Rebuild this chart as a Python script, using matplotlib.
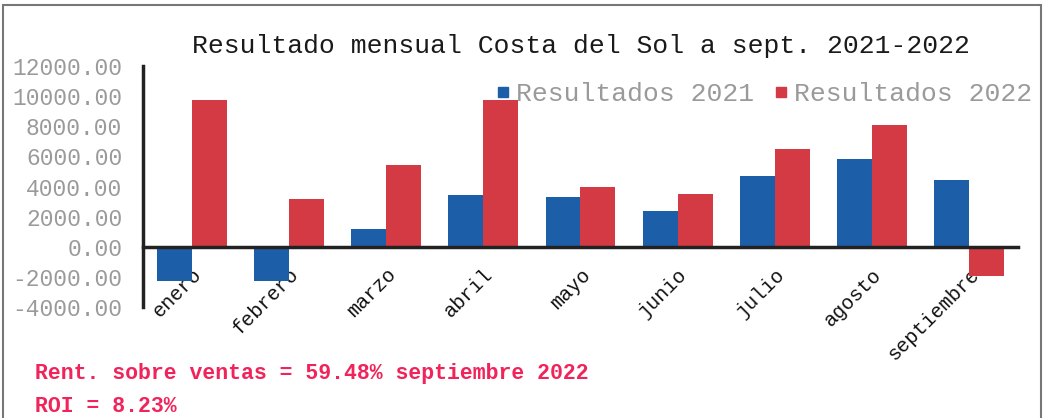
import numpy as np
import matplotlib.pyplot as plt
from matplotlib.lines import Line2D
from matplotlib.patches import Rectangle

# Datos mensuales
meses = ['enero', 'febrero', 'marzo', 'abril', 'mayo', 'junio', 'julio', 'agosto', 'septiembre']
res_2021 = [-2300, -2300, 1150, 3430, 3320, 2380, 4730, 5850, 4450]
res_2022 = [9720, 3200, 5450, 9720, 3950, 3490, 6490, 8070, -1950]
y_ticks = [-4000, -2000, 0, 2000, 4000, 6000, 8000, 10000, 12000]

titulo = 'Resultado mensual Costa del Sol a sept. 2021-2022'
nota_rent = 'Rent. sobre ventas = 59.48% septiembre 2022'
nota_roi = 'ROI = 8.23%'

azul = '#1d5ea8'
rojo = '#d33a44'
rosa = '#f0245a'
mono = ['Liberation Mono', 'DejaVu Sans Mono']

plt.rcParams['font.family'] = mono

fig = plt.figure(figsize=(10.45, 4.18), dpi=100)
ax = fig.add_axes([143 / 1045, 1 - 307 / 418, (1018 - 143) / 1045, (307 - 66) / 418])

# spines primero (set_position reinicia los ticks)
for s in ['top', 'right']:
    ax.spines[s].set_visible(False)
ax.spines['bottom'].set_position(('data', 0))
ax.spines['bottom'].set_linewidth(2.5)
ax.spines['bottom'].set_color('#222222')
ax.spines['bottom'].set_zorder(3)
ax.spines['left'].set_linewidth(2.5)
ax.spines['left'].set_color('#222222')

x = np.arange(len(meses))
w = 0.36
ax.bar(x - w / 2, res_2021, width=w, color=azul, zorder=2)
ax.bar(x + w / 2, res_2022, width=w, color=rojo, zorder=2)

ax.set_xlim(-0.5, len(meses) - 0.5)
ax.set_ylim(-4000, 12000)
ax.set_yticks(y_ticks)
ax.set_yticklabels([f'{v:.2f}' for v in y_ticks], fontsize=16.5, color='#9a9a9a')
ax.tick_params(axis='y', length=0, pad=15)

ax.set_xticks(x)
ax.set_xticklabels(meses, fontsize=14.5, rotation=45, ha='right', va='top',
                   rotation_mode='anchor', color='#111111')
ax.tick_params(axis='x', length=0, pad=13)

ax.set_title(titulo, fontsize=19, color='#1a1a1a', pad=9)

handles = [Line2D([], [], marker='s', linestyle='', color=azul, markersize=7),
           Line2D([], [], marker='s', linestyle='', color=rojo, markersize=7)]
leg = fig.legend(handles, ['Resultados 2021', 'Resultados 2022'], loc='center right',
                 bbox_to_anchor=(1032 / 1045, 1 - 94 / 418), ncol=2, frameon=False,
                 fontsize=19, handlelength=0.4, handletextpad=0.3, columnspacing=0.8,
                 borderpad=0, borderaxespad=0)
for t in leg.get_texts():
    t.set_color('#9a9a9a')

fig.text(35 / 1045, 1 - 374 / 418, nota_rent, fontsize=15.5, fontweight='bold',
         color=rosa, va='center', ha='left')
fig.text(35 / 1045, 1 - 406 / 418, nota_roi, fontsize=15.5, fontweight='bold',
         color=rosa, va='center', ha='left')

# marco exterior
fig.add_artist(Rectangle((3 / 1045, -0.05), (1041 - 3) / 1045, 1.05 - 5 / 418,
                         transform=fig.transFigure, fill=False, edgecolor='#777777',
                         linewidth=1.5))

fig.savefig('out.png', dpi=100)
